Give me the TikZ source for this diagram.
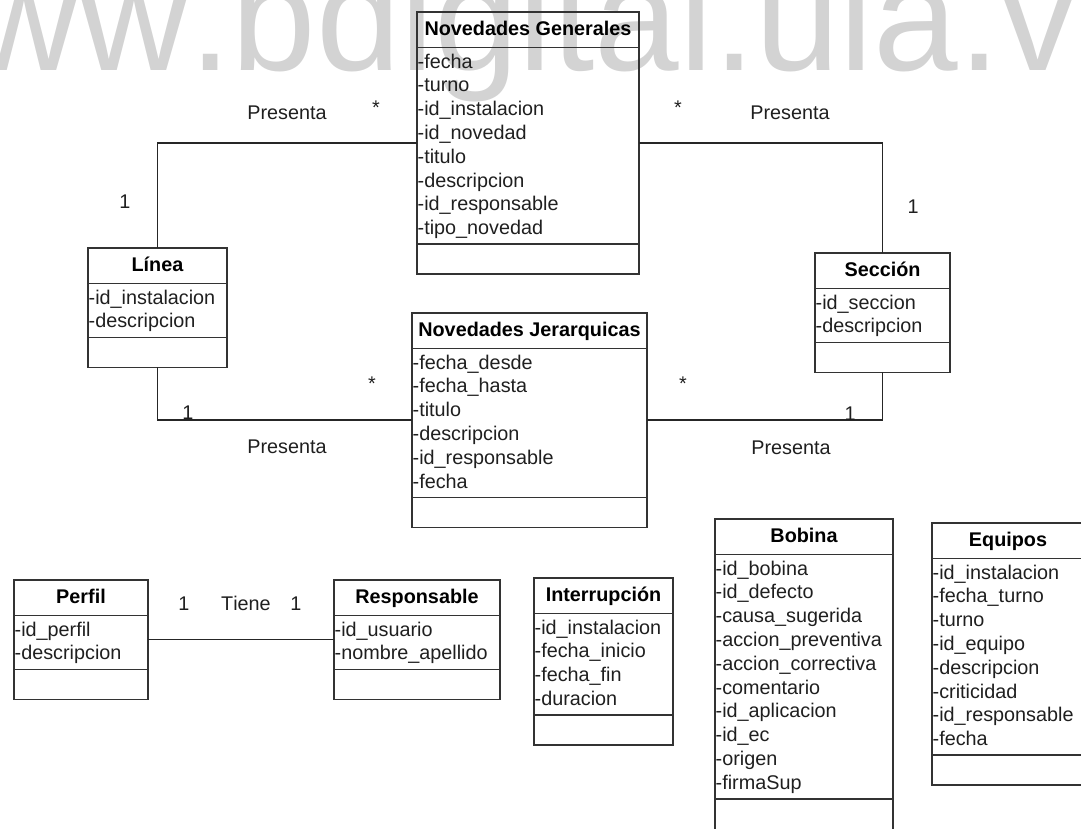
\documentclass[tikz,border=0pt]{standalone}
\usepackage{fontspec}
\setmainfont{Liberation Sans}[Kerning=Off]
\definecolor{wmgray}{RGB}{211,211,211}

% UML class box: name, left, right, top, number of attributes, title, attributes, bottom padding
\newcommand\umlclass[8]{%
  \pgfmathsetmacro\clsL{#2}%
  \pgfmathsetmacro\clsR{#3}%
  \pgfmathsetmacro\clsT{#4}%
  \pgfmathsetmacro\clsH{#4+35.5}%
  \pgfmathsetmacro\clsS{#4+65.5+(#5-1)*23.8}%
  \pgfmathsetmacro\clsB{\clsS+#8}%
  \node[classbox, minimum width={(\clsR-\clsL)*1pt}, minimum height={(\clsB-\clsT)*1pt}]
    (#1) at ({(\clsL+\clsR)/2},{(\clsT+\clsB)/2}) {};
  \draw[classrule] ({\clsL},{\clsH}) -- ({\clsR},{\clsH});
  \draw[classrule] ({\clsL},{\clsS}) -- ({\clsR},{\clsS});
  \node[ctitle] (#1-title) at ({(\clsL+\clsR)/2},{\clsT+23}) {#6};
  \foreach \clsattr [count=\i] in {#7} {
    \node[cattr] (#1-attr\i) at ({\clsL+0.5},{\clsH+20.5+(\i-1)*23.8}) {-\clsattr};
  }%
}

\begin{document}
\begin{tikzpicture}[x=1pt,y=-1pt,
  classbox/.style={draw=black!80, line width=1.6pt, rectangle, inner sep=0pt, outer sep=0pt},
  classrule/.style={draw=black!80, line width=1.6pt},
  assoc/.style={draw=black!85, line width=1.6pt},
  ctitle/.style={anchor=base, inner sep=0pt, font=\fontsize{19.8}{23.8}\selectfont\bfseries, text=black},
  cattr/.style={anchor=base west, inner sep=0pt, font=\fontsize{19.8}{23.8}\selectfont, text=black!88},
  lbl/.style={anchor=base, inner sep=0pt, font=\fontsize{19.8}{23.8}\selectfont, text=black!88},
  wmark/.style={anchor=base west, inner sep=0pt, font=\fontsize{152}{152}\selectfont, text=wmgray},
]
\clip (0,0) rectangle (1081,828);

% site watermark behind the diagram
\node[wmark] (wm) at (-140,70) {www.bdigital.ula.ve};

% classes
\umlclass{ng}{417}{639}{12}{8}{Novedades Generales}%
  {fecha,turno,id\_instalacion,id\_novedad,titulo,descripcion,id\_responsable,tipo\_novedad}{30}
\umlclass{lin}{88}{227}{248}{2}{Línea}{id\_instalacion,descripcion}{30}
\umlclass{sec}{815}{950}{253}{2}{Sección}{id\_seccion,descripcion}{30}
\umlclass{nj}{412}{647}{313}{6}{Novedades Jerarquicas}%
  {fecha\_desde,fecha\_hasta,titulo,descripcion,id\_responsable,fecha}{30}
\umlclass{perfil}{14}{148}{580}{2}{Perfil}{id\_perfil,descripcion}{30}
\umlclass{resp}{334}{500}{580}{2}{Responsable}{id\_usuario,nombre\_apellido}{30}
\umlclass{interr}{534}{673}{578}{4}{Interrupción}%
  {id\_instalacion,fecha\_inicio,fecha\_fin,duracion}{30}
\umlclass{bob}{715}{893}{519}{10}{Bobina}%
  {id\_bobina,id\_defecto,causa\_sugerida,accion\_preventiva,accion\_correctiva,comentario,id\_aplicacion,id\_ec,origen,firmaSup}{40}
\umlclass{equ}{932}{1084}{523}{8}{Equipos}%
  {id\_instalacion,fecha\_turno,turno,id\_equipo,descripcion,criticidad,id\_responsable,fecha}{30}

% associations
\draw[assoc] (ng.west) -| (lin.north);
\draw[assoc] (ng.east) -| (sec.north);
\draw[assoc] (lin.south) |- (nj.west);
\draw[assoc] (sec.south) |- (nj.east);
\draw[assoc] (perfil.east) -- (resp.west);

% association names and multiplicities
\node[lbl] (p1) at (287,119) {Presenta};
\node[lbl] (p2) at (790,119) {Presenta};
\node[lbl] (p3) at (287,453.5) {Presenta};
\node[lbl] (p4) at (791,454) {Presenta};
\node[lbl] (m1) at (376,114) {*};
\node[lbl] (m2) at (678,114) {*};
\node[lbl] (m3) at (372,390) {*};
\node[lbl] (m4) at (683,390) {*};
\node[lbl] (m5) at (125,208) {1};
\node[lbl] (m6) at (913,213) {1};
\node[lbl] (m7) at (188,419) {1};
\node[lbl] (m8) at (850,420) {1};
\node[lbl] (m9) at (184,610) {1};
\node[lbl] (tiene) at (246,610) {Tiene};
\node[lbl] (m10) at (296,610) {1};
\end{tikzpicture}
\end{document}
